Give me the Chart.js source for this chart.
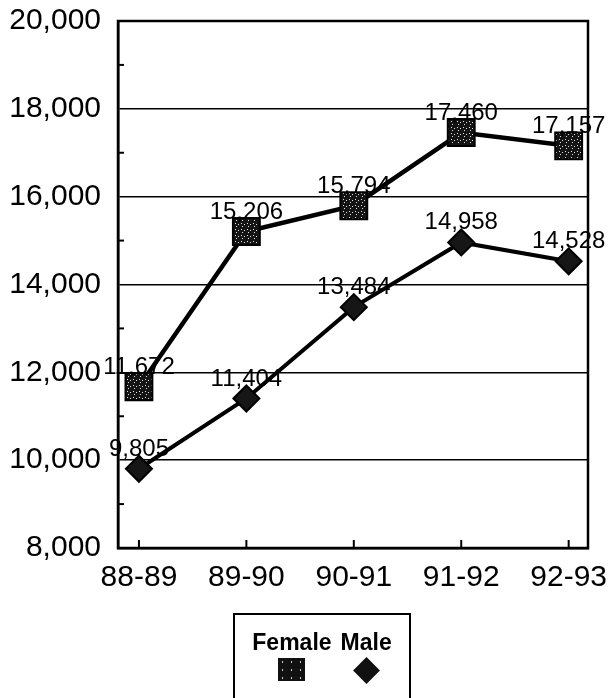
<!DOCTYPE html>
<html><head><meta charset="utf-8">
<script src="https://cdn.jsdelivr.net/npm/chart.js@4.4.0/dist/chart.umd.min.js"></script>
<style>
html,body{margin:0;padding:0;background:#fff;}
#wrap{position:relative;width:615px;height:698px;overflow:hidden;background:#fff;}
#c{position:absolute;left:0;top:0;}
#legend{position:absolute;left:233px;top:613px;width:178px;height:110px;border:2px solid #000;
  font:bold 23px "Liberation Sans",Arial,sans-serif;color:#000;display:flex;justify-content:center;gap:9px;padding-top:14px;box-sizing:border-box;}
.col{display:flex;flex-direction:column;align-items:center;}
.col span{line-height:26px;}
.sq{width:27px;height:23px;margin-top:3px;background-color:#111;
  background-image:radial-gradient(circle,#d0d0d0 0.7px,transparent 1.1px);background-size:9px 8px;}
.dm{width:19px;height:19px;margin-top:6px;background:#111;transform:rotate(45deg);}
</style></head>
<body><div id="wrap"><canvas id="c" width="615" height="698"></canvas><div id="legend"></div></div>
<script>
const categories = ['88-89','89-90','90-91','91-92','92-93'];
const femaleValues = [11672, 15206, 15794, 17460, 17157];
const maleValues = [9805, 11404, 13484, 14958, 14528];
const seriesNames = ['Female', 'Male'];
const yTickValues = [8000, 10000, 12000, 14000, 16000, 18000, 20000];

const FONT = '"Liberation Sans", Arial, sans-serif';
const canvas = document.getElementById('c');
const ctx0 = canvas.getContext('2d');
function stipple(){
  const c = document.createElement('canvas'); c.width = 6; c.height = 6;
  const g = c.getContext('2d');
  g.fillStyle = '#141414'; g.fillRect(0,0,6,6);
  g.fillStyle = '#e0e0e0'; g.fillRect(1,1,1,1); g.fillRect(4,2,1,1); g.fillRect(2,4,1,1);
  return ctx0.createPattern(c, 'repeat');
}
const fmt = v => v.toLocaleString('en-US');

const framePlugin = {
  id: 'frame',
  beforeDatasetsDraw(chart){
    const {ctx, chartArea:a, scales} = chart;
    ctx.save();
    ctx.strokeStyle = '#000';
    ctx.lineWidth = 2.5;
    ctx.strokeRect(a.left, a.top, a.right - a.left, a.bottom - a.top);
    ctx.lineWidth = 2;
    const yt = scales.y.ticks;
    for (let i = 0; i + 1 < yt.length; i++) {
      const py = scales.y.getPixelForValue((yt[i].value + yt[i+1].value) / 2);
      ctx.beginPath(); ctx.moveTo(a.left, py); ctx.lineTo(a.left + 6, py); ctx.stroke();
    }
    scales.x.ticks.forEach(t => {
      const px = scales.x.getPixelForValue(t.value);
      ctx.beginPath(); ctx.moveTo(px, a.bottom); ctx.lineTo(px, a.bottom - 8); ctx.stroke();
    });
    ctx.restore();
  }
};
const labelPlugin = {
  id: 'valueLabels',
  afterDatasetsDraw(chart){
    const ctx = chart.ctx;
    ctx.save();
    ctx.font = '24px ' + FONT;
    ctx.fillStyle = '#000';
    ctx.textAlign = 'center';
    ctx.textBaseline = 'alphabetic';
    chart.data.datasets.forEach((ds, i) => {
      chart.getDatasetMeta(i).data.forEach((pt, j) => {
        ctx.fillText(fmt(ds.data[j].y), pt.x, pt.y - 13);
      });
    });
    ctx.restore();
  }
};

const pattern = stipple();
const chart = new Chart(canvas, {
  type: 'line',
  data: {
    datasets: [
      { label: seriesNames[0], data: femaleValues.map((v,i)=>({x:i,y:v})),
        borderColor:'#000', borderWidth:4.5, pointStyle:'rect', pointRadius:19,
        pointBackgroundColor: pattern, pointBorderColor:'#000', pointBorderWidth:2, tension:0, clip:false },
      { label: seriesNames[1], data: maleValues.map((v,i)=>({x:i,y:v})),
        borderColor:'#000', borderWidth:4, pointStyle:'rectRot', pointRadius:13,
        pointBackgroundColor:'#161616', pointBorderColor:'#000', pointBorderWidth:2, tension:0, clip:false }
    ]
  },
  options: {
    responsive:false, animation:false, devicePixelRatio:1,
    events:[],
    layout:{padding:{left:0, right:27, top:20, bottom:0}},
    plugins:{legend:{display:false}, tooltip:{enabled:false}},
    scales:{
      x:{ type:'linear', min:-0.195, max:4.18,
        afterBuildTicks(s){ s.ticks = categories.map((c,i)=>({value:i})); },
        afterFit(s){ s.height = 150; s.paddingLeft = 0; s.paddingRight = 0; },
        grid:{display:false, drawTicks:false},
        border:{display:true, color:'#000', width:2.5},
        ticks:{ callback:(v)=>categories[v], autoSkip:false, maxRotation:0, color:'#000', padding:12,
          font:{family:FONT, size:30} } },
      y:{ min:8000, max:20000,
        afterBuildTicks(s){ s.ticks = yTickValues.map(v=>({value:v})); },
        afterFit(s){ s.width = 118; s.paddingTop = 0; s.paddingBottom = 0; },
        grid:{color:'#000', lineWidth:1.5, drawTicks:false},
        border:{display:true, color:'#000', width:2.5},
        ticks:{ callback:(v)=>fmt(v), color:'#000', padding:17, font:{family:FONT, size:30} } }
    }
  },
  plugins:[framePlugin, labelPlugin]
});

const legend = document.getElementById('legend');
chart.data.datasets.forEach(ds => {
  const col = document.createElement('div'); col.className = 'col';
  const t = document.createElement('span'); t.textContent = ds.label;
  const m = document.createElement('div'); m.className = ds.pointStyle === 'rect' ? 'sq' : 'dm';
  col.appendChild(t); col.appendChild(m); legend.appendChild(col);
});
</script>
</body></html>
